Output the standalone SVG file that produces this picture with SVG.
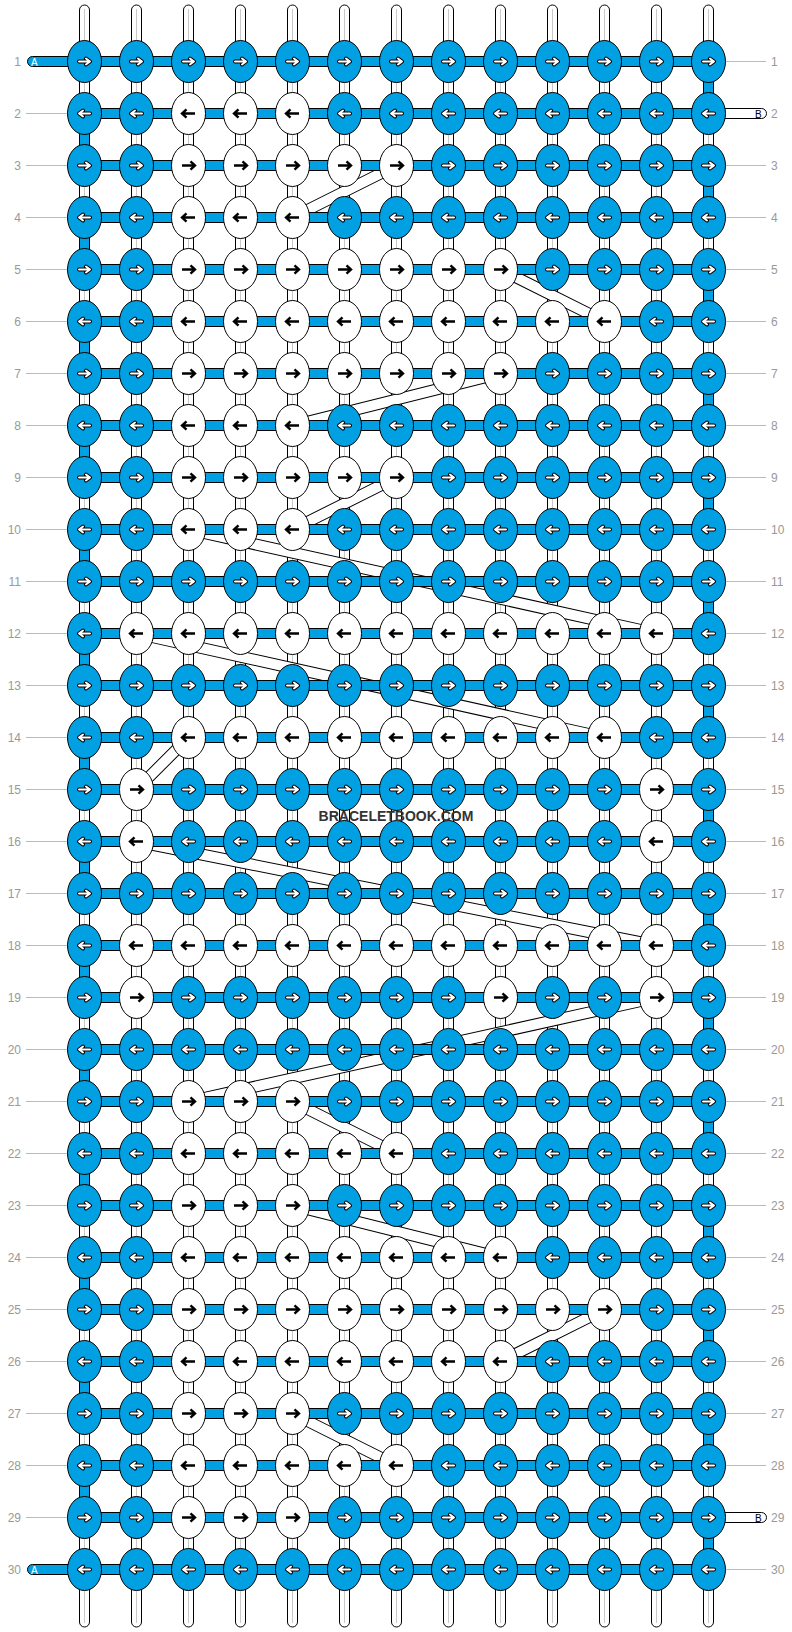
<svg xmlns="http://www.w3.org/2000/svg" width="792" height="1632" viewBox="0 0 792 1632">
<style>
.wp{fill:#fff;stroke:#000;stroke-width:1}
.wc{stroke:#c8c8c8;stroke-width:1}
.cb{fill:none;stroke:#000;stroke-width:12}
.cw{fill:none;stroke:#fff;stroke-width:10}
.hb{fill:#00a0e2;stroke:#000;stroke-width:1}
.tb{fill:#00a0e2;stroke:#000;stroke-width:1}
.ew{fill:#fff;stroke:#000;stroke-width:1}
.gl{stroke:#bbb;stroke-width:1}
.lb{font-family:"Liberation Sans",Arial,sans-serif;font-size:12px;fill:#999}
.le{text-anchor:end}
.nb{fill:#00a0e2;stroke:#000;stroke-width:1}
.nw{fill:#fff;stroke:#000;stroke-width:1}
.ao{fill:none;stroke:#000;stroke-width:4;stroke-linecap:round;stroke-linejoin:round}
.ai{fill:none;stroke:#fff;stroke-width:2;stroke-linecap:round;stroke-linejoin:round}
.ab{fill:none;stroke:#000;stroke-width:2.4;stroke-linejoin:miter}
.sl{font-family:"Liberation Sans",Arial,sans-serif;font-size:10px}
</style>
<defs>
<path id="ar" d="M-5.5,0H5M1.5,-3L5.5,0L1.5,3"/>
<path id="al" d="M5.5,0H-5M-1.5,-3L-5.5,0L-1.5,3"/>
<path id="kr" d="M-6.5,0H6M2,-4.2L6.5,0L2,4.2"/>
<path id="kl" d="M6.5,0H-6M-2,-4.2L-6.5,0L-2,4.2"/>
<g id="BR"><ellipse class="nb" rx="17" ry="21"/><use href="#ar" class="ao"/><use href="#ar" class="ai"/></g>
<g id="BL"><ellipse class="nb" rx="17" ry="21"/><use href="#al" class="ao"/><use href="#al" class="ai"/></g>
<g id="WR"><ellipse class="nw" rx="17" ry="21"/><use href="#kr" class="ab"/></g>
<g id="WL"><ellipse class="nw" rx="17" ry="21"/><use href="#kl" class="ab"/></g>
</defs>
<rect width="792" height="1632" fill="#fff"/>
<g id="labels">
<g id="guides">
<path class="gl" d="M26,113.5H68M26,165.5H68M26,217.5H68M26,269.5H68M26,321.5H68M26,373.5H68M26,425.5H68M26,477.5H68M26,529.5H68M26,581.5H68M26,633.5H68M26,685.5H68M26,737.5H68M26,789.5H68M26,841.5H68M26,893.5H68M26,945.5H68M26,997.5H68M26,1049.5H68M26,1101.5H68M26,1153.5H68M26,1205.5H68M26,1257.5H68M26,1309.5H68M26,1361.5H68M26,1413.5H68M26,1465.5H68M26,1517.5H68"/>
<path class="gl" d="M724,61.5H766M724,165.5H766M724,217.5H766M724,269.5H766M724,321.5H766M724,373.5H766M724,425.5H766M724,477.5H766M724,529.5H766M724,581.5H766M724,633.5H766M724,685.5H766M724,737.5H766M724,789.5H766M724,841.5H766M724,893.5H766M724,945.5H766M724,997.5H766M724,1049.5H766M724,1101.5H766M724,1153.5H766M724,1205.5H766M724,1257.5H766M724,1309.5H766M724,1361.5H766M724,1413.5H766M724,1465.5H766M724,1569.5H766"/>
</g>
<g id="left-numbers" class="lb le">
<text x="21" y="65.7">1</text><text x="21" y="117.7">2</text><text x="21" y="169.7">3</text><text x="21" y="221.7">4</text><text x="21" y="273.7">5</text><text x="21" y="325.7">6</text><text x="21" y="377.7">7</text><text x="21" y="429.7">8</text><text x="21" y="481.7">9</text><text x="21" y="533.7">10</text><text x="21" y="585.7">11</text><text x="21" y="637.7">12</text><text x="21" y="689.7">13</text><text x="21" y="741.7">14</text><text x="21" y="793.7">15</text><text x="21" y="845.7">16</text><text x="21" y="897.7">17</text><text x="21" y="949.7">18</text><text x="21" y="1001.7">19</text><text x="21" y="1053.7">20</text><text x="21" y="1105.7">21</text><text x="21" y="1157.7">22</text><text x="21" y="1209.7">23</text><text x="21" y="1261.7">24</text><text x="21" y="1313.7">25</text><text x="21" y="1365.7">26</text><text x="21" y="1417.7">27</text><text x="21" y="1469.7">28</text><text x="21" y="1521.7">29</text><text x="21" y="1573.7">30</text>
</g>
<g id="right-numbers" class="lb">
<text x="771" y="65.7">1</text><text x="771" y="117.7">2</text><text x="771" y="169.7">3</text><text x="771" y="221.7">4</text><text x="771" y="273.7">5</text><text x="771" y="325.7">6</text><text x="771" y="377.7">7</text><text x="771" y="429.7">8</text><text x="771" y="481.7">9</text><text x="771" y="533.7">10</text><text x="771" y="585.7">11</text><text x="771" y="637.7">12</text><text x="771" y="689.7">13</text><text x="771" y="741.7">14</text><text x="771" y="793.7">15</text><text x="771" y="845.7">16</text><text x="771" y="897.7">17</text><text x="771" y="949.7">18</text><text x="771" y="1001.7">19</text><text x="771" y="1053.7">20</text><text x="771" y="1105.7">21</text><text x="771" y="1157.7">22</text><text x="771" y="1209.7">23</text><text x="771" y="1261.7">24</text><text x="771" y="1313.7">25</text><text x="771" y="1365.7">26</text><text x="771" y="1417.7">27</text><text x="771" y="1469.7">28</text><text x="771" y="1521.7">29</text><text x="771" y="1573.7">30</text>
</g>
</g>
<g id="connectors" transform="translate(0.5,0)">
<g id="warps">
<rect class="wp" x="79" y="5" width="10" height="1622" rx="5"/><rect class="wp" x="131" y="5" width="10" height="1622" rx="5"/><rect class="wp" x="183" y="5" width="10" height="1622" rx="5"/><rect class="wp" x="235" y="5" width="10" height="1622" rx="5"/><rect class="wp" x="287" y="5" width="10" height="1622" rx="5"/><rect class="wp" x="339" y="5" width="10" height="1622" rx="5"/><rect class="wp" x="391" y="5" width="10" height="1622" rx="5"/><rect class="wp" x="443" y="5" width="10" height="1622" rx="5"/><rect class="wp" x="495" y="5" width="10" height="1622" rx="5"/><rect class="wp" x="547" y="5" width="10" height="1622" rx="5"/><rect class="wp" x="599" y="5" width="10" height="1622" rx="5"/><rect class="wp" x="651" y="5" width="10" height="1622" rx="5"/><rect class="wp" x="703" y="5" width="10" height="1622" rx="5"/>
<path class="wc" d="M84,9V1623M136,9V1623M188,9V1623M240,9V1623M292,9V1623M344,9V1623M396,9V1623M448,9V1623M500,9V1623M552,9V1623M604,9V1623M656,9V1623M708,9V1623"/>
</g>
<g id="carries">
<path class="cb" d="M396,165.5L292,217.5M500,269.5L604,321.5M500,373.5L292,425.5M396,477.5L292,529.5M188,529.5L656,633.5M136,633.5L604,737.5M188,737.5L136,789.5M136,841.5L656,945.5M656,997.5L188,1101.5M292,1101.5L396,1153.5M292,1205.5L500,1257.5M604,1309.5L500,1361.5M292,1413.5L396,1465.5"/>
<path class="cw" d="M396,165.5L292,217.5M500,269.5L604,321.5M500,373.5L292,425.5M396,477.5L292,529.5M188,529.5L656,633.5M136,633.5L604,737.5M188,737.5L136,789.5M136,841.5L656,945.5M656,997.5L188,1101.5M292,1101.5L396,1153.5M292,1205.5L500,1257.5M604,1309.5L500,1361.5M292,1413.5L396,1465.5"/>
</g>
<g id="ends">
<rect class="hb" x="27" y="56.5" width="60" height="10" rx="5"/>
<rect class="hb" x="27" y="1564.5" width="60" height="10" rx="5"/>
<rect class="ew" x="700" y="108.5" width="66" height="10" rx="5"/>
<rect class="ew" x="700" y="1512.5" width="66" height="10" rx="5"/>
</g>
<g id="rows">
<rect class="hb" x="84" y="56.5" width="624" height="10"/><rect class="hb" x="84" y="108.5" width="624" height="10"/><rect class="hb" x="84" y="160.5" width="624" height="10"/><rect class="hb" x="84" y="212.5" width="624" height="10"/><rect class="hb" x="84" y="264.5" width="624" height="10"/><rect class="hb" x="84" y="316.5" width="624" height="10"/><rect class="hb" x="84" y="368.5" width="624" height="10"/><rect class="hb" x="84" y="420.5" width="624" height="10"/><rect class="hb" x="84" y="472.5" width="624" height="10"/><rect class="hb" x="84" y="524.5" width="624" height="10"/><rect class="hb" x="84" y="576.5" width="624" height="10"/><rect class="hb" x="84" y="628.5" width="624" height="10"/><rect class="hb" x="84" y="680.5" width="624" height="10"/><rect class="hb" x="84" y="732.5" width="624" height="10"/><rect class="hb" x="84" y="784.5" width="624" height="10"/><rect class="hb" x="84" y="836.5" width="624" height="10"/><rect class="hb" x="84" y="888.5" width="624" height="10"/><rect class="hb" x="84" y="940.5" width="624" height="10"/><rect class="hb" x="84" y="992.5" width="624" height="10"/><rect class="hb" x="84" y="1044.5" width="624" height="10"/><rect class="hb" x="84" y="1096.5" width="624" height="10"/><rect class="hb" x="84" y="1148.5" width="624" height="10"/><rect class="hb" x="84" y="1200.5" width="624" height="10"/><rect class="hb" x="84" y="1252.5" width="624" height="10"/><rect class="hb" x="84" y="1304.5" width="624" height="10"/><rect class="hb" x="84" y="1356.5" width="624" height="10"/><rect class="hb" x="84" y="1408.5" width="624" height="10"/><rect class="hb" x="84" y="1460.5" width="624" height="10"/><rect class="hb" x="84" y="1512.5" width="624" height="10"/><rect class="hb" x="84" y="1564.5" width="624" height="10"/>
</g>
<g id="turns">
<rect class="tb" x="79" y="128.5" width="10" height="22"/><rect class="tb" x="79" y="232.5" width="10" height="22"/><rect class="tb" x="79" y="336.5" width="10" height="22"/><rect class="tb" x="79" y="440.5" width="10" height="22"/><rect class="tb" x="79" y="544.5" width="10" height="22"/><rect class="tb" x="79" y="648.5" width="10" height="22"/><rect class="tb" x="79" y="752.5" width="10" height="22"/><rect class="tb" x="79" y="856.5" width="10" height="22"/><rect class="tb" x="79" y="960.5" width="10" height="22"/><rect class="tb" x="79" y="1064.5" width="10" height="22"/><rect class="tb" x="79" y="1168.5" width="10" height="22"/><rect class="tb" x="79" y="1272.5" width="10" height="22"/><rect class="tb" x="79" y="1376.5" width="10" height="22"/><rect class="tb" x="79" y="1480.5" width="10" height="22"/>
<rect class="tb" x="703" y="76.5" width="10" height="22"/><rect class="tb" x="703" y="180.5" width="10" height="22"/><rect class="tb" x="703" y="284.5" width="10" height="22"/><rect class="tb" x="703" y="388.5" width="10" height="22"/><rect class="tb" x="703" y="492.5" width="10" height="22"/><rect class="tb" x="703" y="596.5" width="10" height="22"/><rect class="tb" x="703" y="700.5" width="10" height="22"/><rect class="tb" x="703" y="804.5" width="10" height="22"/><rect class="tb" x="703" y="908.5" width="10" height="22"/><rect class="tb" x="703" y="1012.5" width="10" height="22"/><rect class="tb" x="703" y="1116.5" width="10" height="22"/><rect class="tb" x="703" y="1220.5" width="10" height="22"/><rect class="tb" x="703" y="1324.5" width="10" height="22"/><rect class="tb" x="703" y="1428.5" width="10" height="22"/><rect class="tb" x="703" y="1532.5" width="10" height="22"/>
</g>
</g>
<g id="end-labels" class="sl">
<text x="31" y="65.7" fill="#fff">A</text>
<text x="31" y="1573.7" fill="#fff">A</text>
<text x="755" y="118" fill="#000">B</text>
<text x="755" y="1522" fill="#000">B</text>
</g>
<g id="nodes" transform="translate(0.5,0)">
<g id="n1-1"><use href="#BR" x="84" y="61.5"/></g><g id="n1-2"><use href="#BR" x="136" y="61.5"/></g><g id="n1-3"><use href="#BR" x="188" y="61.5"/></g><g id="n1-4"><use href="#BR" x="240" y="61.5"/></g><g id="n1-5"><use href="#BR" x="292" y="61.5"/></g><g id="n1-6"><use href="#BR" x="344" y="61.5"/></g><g id="n1-7"><use href="#BR" x="396" y="61.5"/></g><g id="n1-8"><use href="#BR" x="448" y="61.5"/></g><g id="n1-9"><use href="#BR" x="500" y="61.5"/></g><g id="n1-10"><use href="#BR" x="552" y="61.5"/></g><g id="n1-11"><use href="#BR" x="604" y="61.5"/></g><g id="n1-12"><use href="#BR" x="656" y="61.5"/></g><g id="n1-13"><use href="#BR" x="708" y="61.5"/></g>
<g id="n2-1"><use href="#BL" x="84" y="113.5"/></g><g id="n2-2"><use href="#BL" x="136" y="113.5"/></g><g id="n2-3"><use href="#WL" x="188" y="113.5"/></g><g id="n2-4"><use href="#WL" x="240" y="113.5"/></g><g id="n2-5"><use href="#WL" x="292" y="113.5"/></g><g id="n2-6"><use href="#BL" x="344" y="113.5"/></g><g id="n2-7"><use href="#BL" x="396" y="113.5"/></g><g id="n2-8"><use href="#BL" x="448" y="113.5"/></g><g id="n2-9"><use href="#BL" x="500" y="113.5"/></g><g id="n2-10"><use href="#BL" x="552" y="113.5"/></g><g id="n2-11"><use href="#BL" x="604" y="113.5"/></g><g id="n2-12"><use href="#BL" x="656" y="113.5"/></g><g id="n2-13"><use href="#BL" x="708" y="113.5"/></g>
<g id="n3-1"><use href="#BR" x="84" y="165.5"/></g><g id="n3-2"><use href="#BR" x="136" y="165.5"/></g><g id="n3-3"><use href="#WR" x="188" y="165.5"/></g><g id="n3-4"><use href="#WR" x="240" y="165.5"/></g><g id="n3-5"><use href="#WR" x="292" y="165.5"/></g><g id="n3-6"><use href="#WR" x="344" y="165.5"/></g><g id="n3-7"><use href="#WR" x="396" y="165.5"/></g><g id="n3-8"><use href="#BR" x="448" y="165.5"/></g><g id="n3-9"><use href="#BR" x="500" y="165.5"/></g><g id="n3-10"><use href="#BR" x="552" y="165.5"/></g><g id="n3-11"><use href="#BR" x="604" y="165.5"/></g><g id="n3-12"><use href="#BR" x="656" y="165.5"/></g><g id="n3-13"><use href="#BR" x="708" y="165.5"/></g>
<g id="n4-1"><use href="#BL" x="84" y="217.5"/></g><g id="n4-2"><use href="#BL" x="136" y="217.5"/></g><g id="n4-3"><use href="#WL" x="188" y="217.5"/></g><g id="n4-4"><use href="#WL" x="240" y="217.5"/></g><g id="n4-5"><use href="#WL" x="292" y="217.5"/></g><g id="n4-6"><use href="#BL" x="344" y="217.5"/></g><g id="n4-7"><use href="#BL" x="396" y="217.5"/></g><g id="n4-8"><use href="#BL" x="448" y="217.5"/></g><g id="n4-9"><use href="#BL" x="500" y="217.5"/></g><g id="n4-10"><use href="#BL" x="552" y="217.5"/></g><g id="n4-11"><use href="#BL" x="604" y="217.5"/></g><g id="n4-12"><use href="#BL" x="656" y="217.5"/></g><g id="n4-13"><use href="#BL" x="708" y="217.5"/></g>
<g id="n5-1"><use href="#BR" x="84" y="269.5"/></g><g id="n5-2"><use href="#BR" x="136" y="269.5"/></g><g id="n5-3"><use href="#WR" x="188" y="269.5"/></g><g id="n5-4"><use href="#WR" x="240" y="269.5"/></g><g id="n5-5"><use href="#WR" x="292" y="269.5"/></g><g id="n5-6"><use href="#WR" x="344" y="269.5"/></g><g id="n5-7"><use href="#WR" x="396" y="269.5"/></g><g id="n5-8"><use href="#WR" x="448" y="269.5"/></g><g id="n5-9"><use href="#WR" x="500" y="269.5"/></g><g id="n5-10"><use href="#BR" x="552" y="269.5"/></g><g id="n5-11"><use href="#BR" x="604" y="269.5"/></g><g id="n5-12"><use href="#BR" x="656" y="269.5"/></g><g id="n5-13"><use href="#BR" x="708" y="269.5"/></g>
<g id="n6-1"><use href="#BL" x="84" y="321.5"/></g><g id="n6-2"><use href="#BL" x="136" y="321.5"/></g><g id="n6-3"><use href="#WL" x="188" y="321.5"/></g><g id="n6-4"><use href="#WL" x="240" y="321.5"/></g><g id="n6-5"><use href="#WL" x="292" y="321.5"/></g><g id="n6-6"><use href="#WL" x="344" y="321.5"/></g><g id="n6-7"><use href="#WL" x="396" y="321.5"/></g><g id="n6-8"><use href="#WL" x="448" y="321.5"/></g><g id="n6-9"><use href="#WL" x="500" y="321.5"/></g><g id="n6-10"><use href="#WL" x="552" y="321.5"/></g><g id="n6-11"><use href="#WL" x="604" y="321.5"/></g><g id="n6-12"><use href="#BL" x="656" y="321.5"/></g><g id="n6-13"><use href="#BL" x="708" y="321.5"/></g>
<g id="n7-1"><use href="#BR" x="84" y="373.5"/></g><g id="n7-2"><use href="#BR" x="136" y="373.5"/></g><g id="n7-3"><use href="#WR" x="188" y="373.5"/></g><g id="n7-4"><use href="#WR" x="240" y="373.5"/></g><g id="n7-5"><use href="#WR" x="292" y="373.5"/></g><g id="n7-6"><use href="#WR" x="344" y="373.5"/></g><g id="n7-7"><use href="#WR" x="396" y="373.5"/></g><g id="n7-8"><use href="#WR" x="448" y="373.5"/></g><g id="n7-9"><use href="#WR" x="500" y="373.5"/></g><g id="n7-10"><use href="#BR" x="552" y="373.5"/></g><g id="n7-11"><use href="#BR" x="604" y="373.5"/></g><g id="n7-12"><use href="#BR" x="656" y="373.5"/></g><g id="n7-13"><use href="#BR" x="708" y="373.5"/></g>
<g id="n8-1"><use href="#BL" x="84" y="425.5"/></g><g id="n8-2"><use href="#BL" x="136" y="425.5"/></g><g id="n8-3"><use href="#WL" x="188" y="425.5"/></g><g id="n8-4"><use href="#WL" x="240" y="425.5"/></g><g id="n8-5"><use href="#WL" x="292" y="425.5"/></g><g id="n8-6"><use href="#BL" x="344" y="425.5"/></g><g id="n8-7"><use href="#BL" x="396" y="425.5"/></g><g id="n8-8"><use href="#BL" x="448" y="425.5"/></g><g id="n8-9"><use href="#BL" x="500" y="425.5"/></g><g id="n8-10"><use href="#BL" x="552" y="425.5"/></g><g id="n8-11"><use href="#BL" x="604" y="425.5"/></g><g id="n8-12"><use href="#BL" x="656" y="425.5"/></g><g id="n8-13"><use href="#BL" x="708" y="425.5"/></g>
<g id="n9-1"><use href="#BR" x="84" y="477.5"/></g><g id="n9-2"><use href="#BR" x="136" y="477.5"/></g><g id="n9-3"><use href="#WR" x="188" y="477.5"/></g><g id="n9-4"><use href="#WR" x="240" y="477.5"/></g><g id="n9-5"><use href="#WR" x="292" y="477.5"/></g><g id="n9-6"><use href="#WR" x="344" y="477.5"/></g><g id="n9-7"><use href="#WR" x="396" y="477.5"/></g><g id="n9-8"><use href="#BR" x="448" y="477.5"/></g><g id="n9-9"><use href="#BR" x="500" y="477.5"/></g><g id="n9-10"><use href="#BR" x="552" y="477.5"/></g><g id="n9-11"><use href="#BR" x="604" y="477.5"/></g><g id="n9-12"><use href="#BR" x="656" y="477.5"/></g><g id="n9-13"><use href="#BR" x="708" y="477.5"/></g>
<g id="n10-1"><use href="#BL" x="84" y="529.5"/></g><g id="n10-2"><use href="#BL" x="136" y="529.5"/></g><g id="n10-3"><use href="#WL" x="188" y="529.5"/></g><g id="n10-4"><use href="#WL" x="240" y="529.5"/></g><g id="n10-5"><use href="#WL" x="292" y="529.5"/></g><g id="n10-6"><use href="#BL" x="344" y="529.5"/></g><g id="n10-7"><use href="#BL" x="396" y="529.5"/></g><g id="n10-8"><use href="#BL" x="448" y="529.5"/></g><g id="n10-9"><use href="#BL" x="500" y="529.5"/></g><g id="n10-10"><use href="#BL" x="552" y="529.5"/></g><g id="n10-11"><use href="#BL" x="604" y="529.5"/></g><g id="n10-12"><use href="#BL" x="656" y="529.5"/></g><g id="n10-13"><use href="#BL" x="708" y="529.5"/></g>
<g id="n11-1"><use href="#BR" x="84" y="581.5"/></g><g id="n11-2"><use href="#BR" x="136" y="581.5"/></g><g id="n11-3"><use href="#BR" x="188" y="581.5"/></g><g id="n11-4"><use href="#BR" x="240" y="581.5"/></g><g id="n11-5"><use href="#BR" x="292" y="581.5"/></g><g id="n11-6"><use href="#BR" x="344" y="581.5"/></g><g id="n11-7"><use href="#BR" x="396" y="581.5"/></g><g id="n11-8"><use href="#BR" x="448" y="581.5"/></g><g id="n11-9"><use href="#BR" x="500" y="581.5"/></g><g id="n11-10"><use href="#BR" x="552" y="581.5"/></g><g id="n11-11"><use href="#BR" x="604" y="581.5"/></g><g id="n11-12"><use href="#BR" x="656" y="581.5"/></g><g id="n11-13"><use href="#BR" x="708" y="581.5"/></g>
<g id="n12-1"><use href="#BL" x="84" y="633.5"/></g><g id="n12-2"><use href="#WL" x="136" y="633.5"/></g><g id="n12-3"><use href="#WL" x="188" y="633.5"/></g><g id="n12-4"><use href="#WL" x="240" y="633.5"/></g><g id="n12-5"><use href="#WL" x="292" y="633.5"/></g><g id="n12-6"><use href="#WL" x="344" y="633.5"/></g><g id="n12-7"><use href="#WL" x="396" y="633.5"/></g><g id="n12-8"><use href="#WL" x="448" y="633.5"/></g><g id="n12-9"><use href="#WL" x="500" y="633.5"/></g><g id="n12-10"><use href="#WL" x="552" y="633.5"/></g><g id="n12-11"><use href="#WL" x="604" y="633.5"/></g><g id="n12-12"><use href="#WL" x="656" y="633.5"/></g><g id="n12-13"><use href="#BL" x="708" y="633.5"/></g>
<g id="n13-1"><use href="#BR" x="84" y="685.5"/></g><g id="n13-2"><use href="#BR" x="136" y="685.5"/></g><g id="n13-3"><use href="#BR" x="188" y="685.5"/></g><g id="n13-4"><use href="#BR" x="240" y="685.5"/></g><g id="n13-5"><use href="#BR" x="292" y="685.5"/></g><g id="n13-6"><use href="#BR" x="344" y="685.5"/></g><g id="n13-7"><use href="#BR" x="396" y="685.5"/></g><g id="n13-8"><use href="#BR" x="448" y="685.5"/></g><g id="n13-9"><use href="#BR" x="500" y="685.5"/></g><g id="n13-10"><use href="#BR" x="552" y="685.5"/></g><g id="n13-11"><use href="#BR" x="604" y="685.5"/></g><g id="n13-12"><use href="#BR" x="656" y="685.5"/></g><g id="n13-13"><use href="#BR" x="708" y="685.5"/></g>
<g id="n14-1"><use href="#BL" x="84" y="737.5"/></g><g id="n14-2"><use href="#BL" x="136" y="737.5"/></g><g id="n14-3"><use href="#WL" x="188" y="737.5"/></g><g id="n14-4"><use href="#WL" x="240" y="737.5"/></g><g id="n14-5"><use href="#WL" x="292" y="737.5"/></g><g id="n14-6"><use href="#WL" x="344" y="737.5"/></g><g id="n14-7"><use href="#WL" x="396" y="737.5"/></g><g id="n14-8"><use href="#WL" x="448" y="737.5"/></g><g id="n14-9"><use href="#WL" x="500" y="737.5"/></g><g id="n14-10"><use href="#WL" x="552" y="737.5"/></g><g id="n14-11"><use href="#WL" x="604" y="737.5"/></g><g id="n14-12"><use href="#BL" x="656" y="737.5"/></g><g id="n14-13"><use href="#BL" x="708" y="737.5"/></g>
<g id="n15-1"><use href="#BR" x="84" y="789.5"/></g><g id="n15-2"><use href="#WR" x="136" y="789.5"/></g><g id="n15-3"><use href="#BR" x="188" y="789.5"/></g><g id="n15-4"><use href="#BR" x="240" y="789.5"/></g><g id="n15-5"><use href="#BR" x="292" y="789.5"/></g><g id="n15-6"><use href="#BR" x="344" y="789.5"/></g><g id="n15-7"><use href="#BR" x="396" y="789.5"/></g><g id="n15-8"><use href="#BR" x="448" y="789.5"/></g><g id="n15-9"><use href="#BR" x="500" y="789.5"/></g><g id="n15-10"><use href="#BR" x="552" y="789.5"/></g><g id="n15-11"><use href="#BR" x="604" y="789.5"/></g><g id="n15-12"><use href="#WR" x="656" y="789.5"/></g><g id="n15-13"><use href="#BR" x="708" y="789.5"/></g>
<g id="n16-1"><use href="#BL" x="84" y="841.5"/></g><g id="n16-2"><use href="#WL" x="136" y="841.5"/></g><g id="n16-3"><use href="#BL" x="188" y="841.5"/></g><g id="n16-4"><use href="#BL" x="240" y="841.5"/></g><g id="n16-5"><use href="#BL" x="292" y="841.5"/></g><g id="n16-6"><use href="#BL" x="344" y="841.5"/></g><g id="n16-7"><use href="#BL" x="396" y="841.5"/></g><g id="n16-8"><use href="#BL" x="448" y="841.5"/></g><g id="n16-9"><use href="#BL" x="500" y="841.5"/></g><g id="n16-10"><use href="#BL" x="552" y="841.5"/></g><g id="n16-11"><use href="#BL" x="604" y="841.5"/></g><g id="n16-12"><use href="#WL" x="656" y="841.5"/></g><g id="n16-13"><use href="#BL" x="708" y="841.5"/></g>
<g id="n17-1"><use href="#BR" x="84" y="893.5"/></g><g id="n17-2"><use href="#BR" x="136" y="893.5"/></g><g id="n17-3"><use href="#BR" x="188" y="893.5"/></g><g id="n17-4"><use href="#BR" x="240" y="893.5"/></g><g id="n17-5"><use href="#BR" x="292" y="893.5"/></g><g id="n17-6"><use href="#BR" x="344" y="893.5"/></g><g id="n17-7"><use href="#BR" x="396" y="893.5"/></g><g id="n17-8"><use href="#BR" x="448" y="893.5"/></g><g id="n17-9"><use href="#BR" x="500" y="893.5"/></g><g id="n17-10"><use href="#BR" x="552" y="893.5"/></g><g id="n17-11"><use href="#BR" x="604" y="893.5"/></g><g id="n17-12"><use href="#BR" x="656" y="893.5"/></g><g id="n17-13"><use href="#BR" x="708" y="893.5"/></g>
<g id="n18-1"><use href="#BL" x="84" y="945.5"/></g><g id="n18-2"><use href="#WL" x="136" y="945.5"/></g><g id="n18-3"><use href="#WL" x="188" y="945.5"/></g><g id="n18-4"><use href="#WL" x="240" y="945.5"/></g><g id="n18-5"><use href="#WL" x="292" y="945.5"/></g><g id="n18-6"><use href="#WL" x="344" y="945.5"/></g><g id="n18-7"><use href="#WL" x="396" y="945.5"/></g><g id="n18-8"><use href="#WL" x="448" y="945.5"/></g><g id="n18-9"><use href="#WL" x="500" y="945.5"/></g><g id="n18-10"><use href="#WL" x="552" y="945.5"/></g><g id="n18-11"><use href="#WL" x="604" y="945.5"/></g><g id="n18-12"><use href="#WL" x="656" y="945.5"/></g><g id="n18-13"><use href="#BL" x="708" y="945.5"/></g>
<g id="n19-1"><use href="#BR" x="84" y="997.5"/></g><g id="n19-2"><use href="#WR" x="136" y="997.5"/></g><g id="n19-3"><use href="#BR" x="188" y="997.5"/></g><g id="n19-4"><use href="#BR" x="240" y="997.5"/></g><g id="n19-5"><use href="#BR" x="292" y="997.5"/></g><g id="n19-6"><use href="#BR" x="344" y="997.5"/></g><g id="n19-7"><use href="#BR" x="396" y="997.5"/></g><g id="n19-8"><use href="#BR" x="448" y="997.5"/></g><g id="n19-9"><use href="#WR" x="500" y="997.5"/></g><g id="n19-10"><use href="#BR" x="552" y="997.5"/></g><g id="n19-11"><use href="#BR" x="604" y="997.5"/></g><g id="n19-12"><use href="#WR" x="656" y="997.5"/></g><g id="n19-13"><use href="#BR" x="708" y="997.5"/></g>
<g id="n20-1"><use href="#BL" x="84" y="1049.5"/></g><g id="n20-2"><use href="#BL" x="136" y="1049.5"/></g><g id="n20-3"><use href="#BL" x="188" y="1049.5"/></g><g id="n20-4"><use href="#BL" x="240" y="1049.5"/></g><g id="n20-5"><use href="#BL" x="292" y="1049.5"/></g><g id="n20-6"><use href="#BL" x="344" y="1049.5"/></g><g id="n20-7"><use href="#BL" x="396" y="1049.5"/></g><g id="n20-8"><use href="#BL" x="448" y="1049.5"/></g><g id="n20-9"><use href="#BL" x="500" y="1049.5"/></g><g id="n20-10"><use href="#BL" x="552" y="1049.5"/></g><g id="n20-11"><use href="#BL" x="604" y="1049.5"/></g><g id="n20-12"><use href="#BL" x="656" y="1049.5"/></g><g id="n20-13"><use href="#BL" x="708" y="1049.5"/></g>
<g id="n21-1"><use href="#BR" x="84" y="1101.5"/></g><g id="n21-2"><use href="#BR" x="136" y="1101.5"/></g><g id="n21-3"><use href="#WR" x="188" y="1101.5"/></g><g id="n21-4"><use href="#WR" x="240" y="1101.5"/></g><g id="n21-5"><use href="#WR" x="292" y="1101.5"/></g><g id="n21-6"><use href="#BR" x="344" y="1101.5"/></g><g id="n21-7"><use href="#BR" x="396" y="1101.5"/></g><g id="n21-8"><use href="#BR" x="448" y="1101.5"/></g><g id="n21-9"><use href="#BR" x="500" y="1101.5"/></g><g id="n21-10"><use href="#BR" x="552" y="1101.5"/></g><g id="n21-11"><use href="#BR" x="604" y="1101.5"/></g><g id="n21-12"><use href="#BR" x="656" y="1101.5"/></g><g id="n21-13"><use href="#BR" x="708" y="1101.5"/></g>
<g id="n22-1"><use href="#BL" x="84" y="1153.5"/></g><g id="n22-2"><use href="#BL" x="136" y="1153.5"/></g><g id="n22-3"><use href="#WL" x="188" y="1153.5"/></g><g id="n22-4"><use href="#WL" x="240" y="1153.5"/></g><g id="n22-5"><use href="#WL" x="292" y="1153.5"/></g><g id="n22-6"><use href="#WL" x="344" y="1153.5"/></g><g id="n22-7"><use href="#WL" x="396" y="1153.5"/></g><g id="n22-8"><use href="#BL" x="448" y="1153.5"/></g><g id="n22-9"><use href="#BL" x="500" y="1153.5"/></g><g id="n22-10"><use href="#BL" x="552" y="1153.5"/></g><g id="n22-11"><use href="#BL" x="604" y="1153.5"/></g><g id="n22-12"><use href="#BL" x="656" y="1153.5"/></g><g id="n22-13"><use href="#BL" x="708" y="1153.5"/></g>
<g id="n23-1"><use href="#BR" x="84" y="1205.5"/></g><g id="n23-2"><use href="#BR" x="136" y="1205.5"/></g><g id="n23-3"><use href="#WR" x="188" y="1205.5"/></g><g id="n23-4"><use href="#WR" x="240" y="1205.5"/></g><g id="n23-5"><use href="#WR" x="292" y="1205.5"/></g><g id="n23-6"><use href="#BR" x="344" y="1205.5"/></g><g id="n23-7"><use href="#BR" x="396" y="1205.5"/></g><g id="n23-8"><use href="#BR" x="448" y="1205.5"/></g><g id="n23-9"><use href="#BR" x="500" y="1205.5"/></g><g id="n23-10"><use href="#BR" x="552" y="1205.5"/></g><g id="n23-11"><use href="#BR" x="604" y="1205.5"/></g><g id="n23-12"><use href="#BR" x="656" y="1205.5"/></g><g id="n23-13"><use href="#BR" x="708" y="1205.5"/></g>
<g id="n24-1"><use href="#BL" x="84" y="1257.5"/></g><g id="n24-2"><use href="#BL" x="136" y="1257.5"/></g><g id="n24-3"><use href="#WL" x="188" y="1257.5"/></g><g id="n24-4"><use href="#WL" x="240" y="1257.5"/></g><g id="n24-5"><use href="#WL" x="292" y="1257.5"/></g><g id="n24-6"><use href="#WL" x="344" y="1257.5"/></g><g id="n24-7"><use href="#WL" x="396" y="1257.5"/></g><g id="n24-8"><use href="#WL" x="448" y="1257.5"/></g><g id="n24-9"><use href="#WL" x="500" y="1257.5"/></g><g id="n24-10"><use href="#BL" x="552" y="1257.5"/></g><g id="n24-11"><use href="#BL" x="604" y="1257.5"/></g><g id="n24-12"><use href="#BL" x="656" y="1257.5"/></g><g id="n24-13"><use href="#BL" x="708" y="1257.5"/></g>
<g id="n25-1"><use href="#BR" x="84" y="1309.5"/></g><g id="n25-2"><use href="#BR" x="136" y="1309.5"/></g><g id="n25-3"><use href="#WR" x="188" y="1309.5"/></g><g id="n25-4"><use href="#WR" x="240" y="1309.5"/></g><g id="n25-5"><use href="#WR" x="292" y="1309.5"/></g><g id="n25-6"><use href="#WR" x="344" y="1309.5"/></g><g id="n25-7"><use href="#WR" x="396" y="1309.5"/></g><g id="n25-8"><use href="#WR" x="448" y="1309.5"/></g><g id="n25-9"><use href="#WR" x="500" y="1309.5"/></g><g id="n25-10"><use href="#WR" x="552" y="1309.5"/></g><g id="n25-11"><use href="#WR" x="604" y="1309.5"/></g><g id="n25-12"><use href="#BR" x="656" y="1309.5"/></g><g id="n25-13"><use href="#BR" x="708" y="1309.5"/></g>
<g id="n26-1"><use href="#BL" x="84" y="1361.5"/></g><g id="n26-2"><use href="#BL" x="136" y="1361.5"/></g><g id="n26-3"><use href="#WL" x="188" y="1361.5"/></g><g id="n26-4"><use href="#WL" x="240" y="1361.5"/></g><g id="n26-5"><use href="#WL" x="292" y="1361.5"/></g><g id="n26-6"><use href="#WL" x="344" y="1361.5"/></g><g id="n26-7"><use href="#WL" x="396" y="1361.5"/></g><g id="n26-8"><use href="#WL" x="448" y="1361.5"/></g><g id="n26-9"><use href="#WL" x="500" y="1361.5"/></g><g id="n26-10"><use href="#BL" x="552" y="1361.5"/></g><g id="n26-11"><use href="#BL" x="604" y="1361.5"/></g><g id="n26-12"><use href="#BL" x="656" y="1361.5"/></g><g id="n26-13"><use href="#BL" x="708" y="1361.5"/></g>
<g id="n27-1"><use href="#BR" x="84" y="1413.5"/></g><g id="n27-2"><use href="#BR" x="136" y="1413.5"/></g><g id="n27-3"><use href="#WR" x="188" y="1413.5"/></g><g id="n27-4"><use href="#WR" x="240" y="1413.5"/></g><g id="n27-5"><use href="#WR" x="292" y="1413.5"/></g><g id="n27-6"><use href="#BR" x="344" y="1413.5"/></g><g id="n27-7"><use href="#BR" x="396" y="1413.5"/></g><g id="n27-8"><use href="#BR" x="448" y="1413.5"/></g><g id="n27-9"><use href="#BR" x="500" y="1413.5"/></g><g id="n27-10"><use href="#BR" x="552" y="1413.5"/></g><g id="n27-11"><use href="#BR" x="604" y="1413.5"/></g><g id="n27-12"><use href="#BR" x="656" y="1413.5"/></g><g id="n27-13"><use href="#BR" x="708" y="1413.5"/></g>
<g id="n28-1"><use href="#BL" x="84" y="1465.5"/></g><g id="n28-2"><use href="#BL" x="136" y="1465.5"/></g><g id="n28-3"><use href="#WL" x="188" y="1465.5"/></g><g id="n28-4"><use href="#WL" x="240" y="1465.5"/></g><g id="n28-5"><use href="#WL" x="292" y="1465.5"/></g><g id="n28-6"><use href="#WL" x="344" y="1465.5"/></g><g id="n28-7"><use href="#WL" x="396" y="1465.5"/></g><g id="n28-8"><use href="#BL" x="448" y="1465.5"/></g><g id="n28-9"><use href="#BL" x="500" y="1465.5"/></g><g id="n28-10"><use href="#BL" x="552" y="1465.5"/></g><g id="n28-11"><use href="#BL" x="604" y="1465.5"/></g><g id="n28-12"><use href="#BL" x="656" y="1465.5"/></g><g id="n28-13"><use href="#BL" x="708" y="1465.5"/></g>
<g id="n29-1"><use href="#BR" x="84" y="1517.5"/></g><g id="n29-2"><use href="#BR" x="136" y="1517.5"/></g><g id="n29-3"><use href="#WR" x="188" y="1517.5"/></g><g id="n29-4"><use href="#WR" x="240" y="1517.5"/></g><g id="n29-5"><use href="#WR" x="292" y="1517.5"/></g><g id="n29-6"><use href="#BR" x="344" y="1517.5"/></g><g id="n29-7"><use href="#BR" x="396" y="1517.5"/></g><g id="n29-8"><use href="#BR" x="448" y="1517.5"/></g><g id="n29-9"><use href="#BR" x="500" y="1517.5"/></g><g id="n29-10"><use href="#BR" x="552" y="1517.5"/></g><g id="n29-11"><use href="#BR" x="604" y="1517.5"/></g><g id="n29-12"><use href="#BR" x="656" y="1517.5"/></g><g id="n29-13"><use href="#BR" x="708" y="1517.5"/></g>
<g id="n30-1"><use href="#BL" x="84" y="1569.5"/></g><g id="n30-2"><use href="#BL" x="136" y="1569.5"/></g><g id="n30-3"><use href="#BL" x="188" y="1569.5"/></g><g id="n30-4"><use href="#BL" x="240" y="1569.5"/></g><g id="n30-5"><use href="#BL" x="292" y="1569.5"/></g><g id="n30-6"><use href="#BL" x="344" y="1569.5"/></g><g id="n30-7"><use href="#BL" x="396" y="1569.5"/></g><g id="n30-8"><use href="#BL" x="448" y="1569.5"/></g><g id="n30-9"><use href="#BL" x="500" y="1569.5"/></g><g id="n30-10"><use href="#BL" x="552" y="1569.5"/></g><g id="n30-11"><use href="#BL" x="604" y="1569.5"/></g><g id="n30-12"><use href="#BL" x="656" y="1569.5"/></g><g id="n30-13"><use href="#BL" x="708" y="1569.5"/></g>
</g>
<text id="watermark" x="396" y="820.5" text-anchor="middle" font-family="Liberation Sans, Arial, sans-serif" font-size="14" font-weight="bold" fill="#333">BRACELETBOOK.COM</text>
</svg>
